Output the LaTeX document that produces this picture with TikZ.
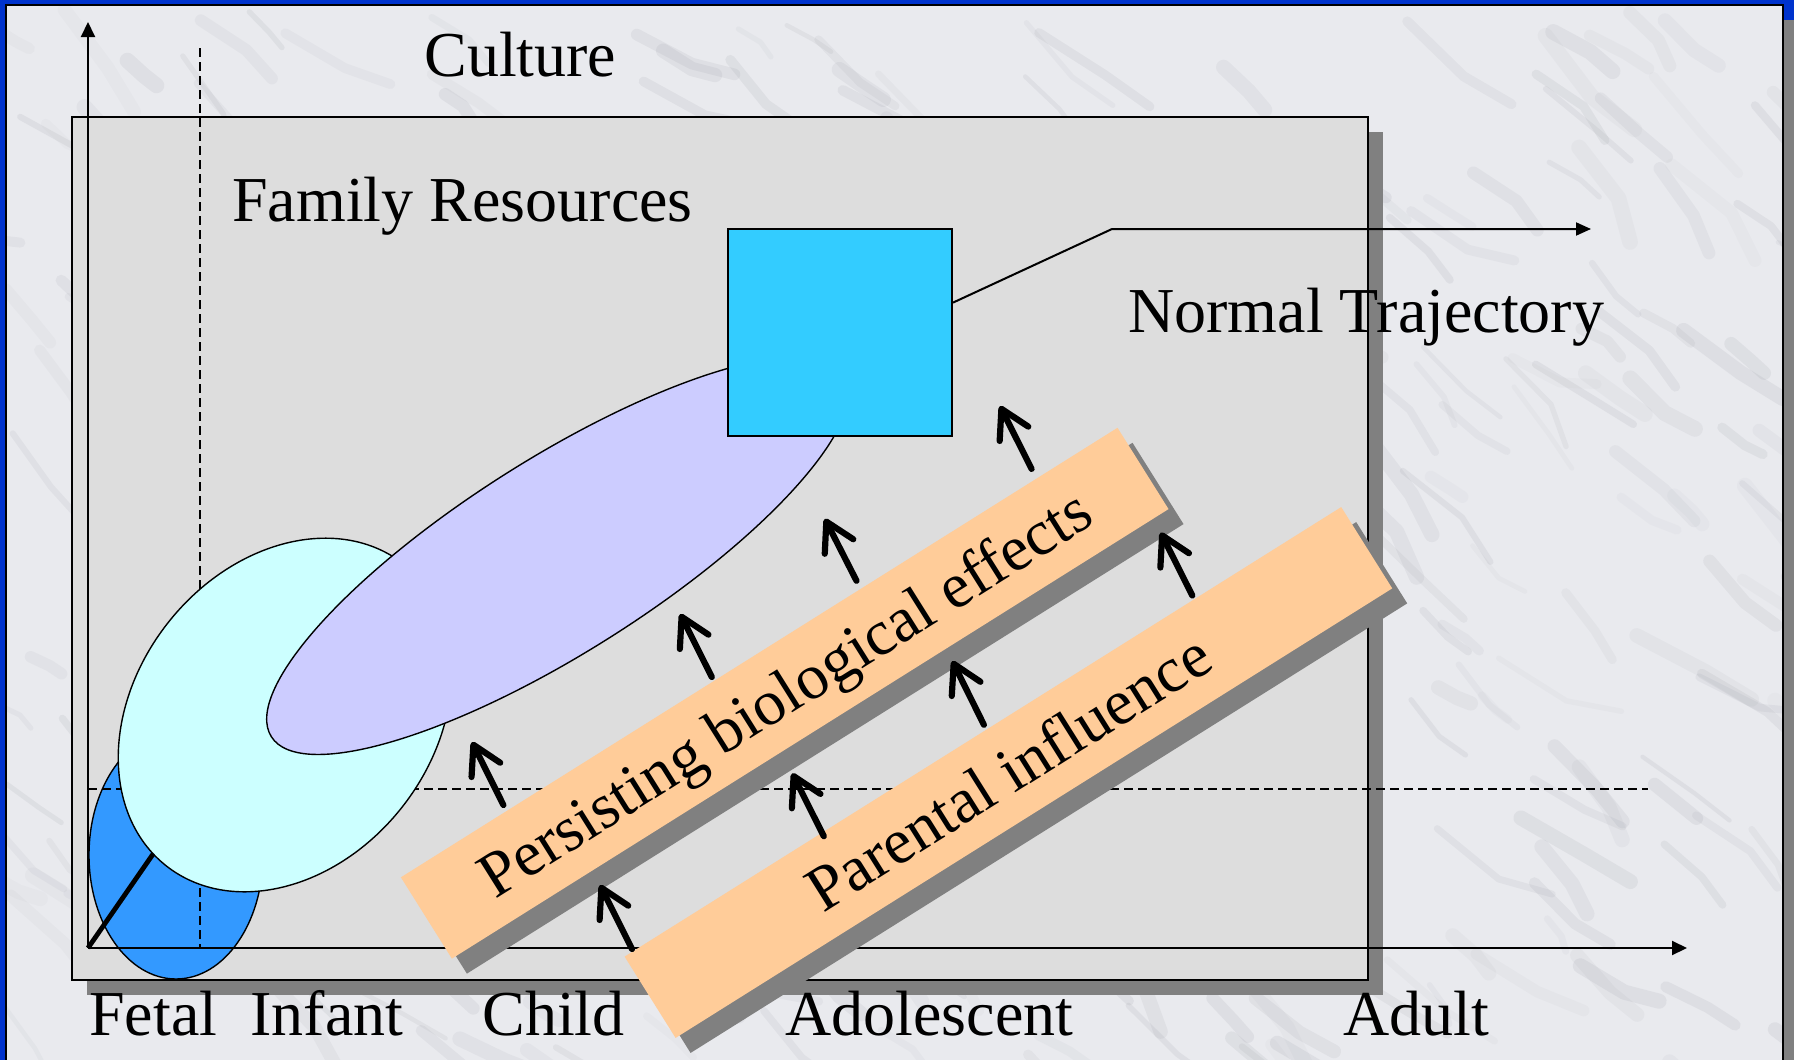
\documentclass[tikz,border=0pt]{standalone}
\usepackage{fontspec}
\setmainfont{Liberation Serif}
\usetikzlibrary{arrows.meta,calc,shapes.geometric}

\definecolor{slideblue}{HTML}{0033CC}
\definecolor{marble}{HTML}{E9EAEE}
\definecolor{vein}{HTML}{8E909A}
\definecolor{panelgray}{HTML}{DDDDDD}
\definecolor{shadowgray}{HTML}{808080}
\definecolor{peach}{HTML}{FFCC99}
\definecolor{fetalblue}{HTML}{3399FF}
\definecolor{infantcyan}{HTML}{CCFFFF}
\definecolor{childlav}{HTML}{CCCCFF}
\definecolor{adultcyan}{HTML}{33CCFF}

\begin{document}
\begin{tikzpicture}[x=0.5pt, y=-0.5pt,
  txt/.style={font=\fontsize{32}{38}\selectfont, inner sep=0pt, anchor=base west},
  axisline/.style={line width=1pt, -{Triangle[length=7.5pt,width=7pt]}},
  guide/.style={line width=0.65pt, dash pattern=on 4.5pt off 2.5pt},
  blob/.style={draw=black, line width=0.7pt, inner sep=0pt},
  slab/.style={rotate=32.1, minimum width=423pt, minimum height=48pt, inner sep=0pt, shape=rectangle},
  slabtext/.style={slab, fill=peach, text height=21pt, text depth=0pt, font=\fontsize{32}{38}\selectfont},
  slabshadow/.style={slab, fill=shadowgray},
  push/.style={line width=3.1pt, line cap=round, -{Straight Barb[length=14pt,width=16pt,round]}},
]
\useasboundingbox (0,0) rectangle (1794,1060);
\clip (0,0) rectangle (1794,1060);

% slide frame
\fill[slideblue] (0,0) rectangle (1794,1060);
\fill[shadowgray] (21,20) rectangle (1800,1080);
\fill[marble] (6,5) rectangle (1783,1080);

% soft marble clouding
\begin{scope}
  \clip (6,5) rectangle (1783,1080);
  \pgfmathsetseed{17}
  \foreach \k in {1,...,360}{
    \pgfmathsetmacro{\mx}{-40+1860*rnd}
    \pgfmathsetmacro{\my}{5+1080*rnd}
    \pgfmathsetmacro{\ml}{20+60*rnd}
    \pgfmathsetmacro{\ma}{25+30*rnd}
    \pgfmathsetmacro{\mb}{\ma+50*rnd-25}
    \pgfmathsetmacro{\mw}{2+6*rnd}
    \pgfmathsetmacro{\mo}{0.04+0.09*rnd}
    \draw[vein, opacity=\mo, line width=\mw pt, line cap=round, line join=round]
      (\mx,\my) -- ++(\ma:\ml) -- ++(\mb:0.7*\ml);
  }
\end{scope}
\draw[line width=1pt] (6,5) rectangle (1783,1080);

% life-course panel with its shadow
\fill[shadowgray] (87,132) rectangle (1383,995);
\draw[line width=1pt, fill=panelgray] (72,117) rectangle (1368,980);

% axes reference points
\coordinate (origin) at (88,948);
\coordinate (ytip) at (88,22);
\coordinate (xtip) at (1687,948);

% fetal stage
\node[blob, ellipse, fill=fetalblue, minimum width=87pt, minimum height=124pt] (fetal) at (176,855) {};
\coordinate (fetalend) at (187,805);
\draw[line width=2.4pt] (origin) -- (fetalend);

% axes and stage guides
\draw[axisline] (origin) -- (ytip);
\draw[axisline] (origin) -- (xtip);
\coordinate (vtop) at (200,48);
\coordinate (vbot) at (200,948);
\draw[guide] (vtop) -- (vbot);
\coordinate (hleft) at (88,789);
\coordinate (hright) at (1648,789);
\draw[guide] (hleft) -- (hright);

% infant, child and adult stages
\node[blob, ellipse, fill=infantcyan, minimum width=192pt, minimum height=149pt, rotate=51.8] (infant) at (285,715) {};
\node[blob, ellipse, fill=childlav, minimum width=339pt, minimum height=97pt, rotate=32.3] (child) at (557.9,555.6) {};
\node[draw=black, line width=1pt, fill=adultcyan, minimum width=112pt, minimum height=103.5pt, inner sep=0pt] (adult) at (840,332.5) {};

% normal trajectory
\coordinate (trajstart) at ($(adult.south east)!0.643!(adult.north east)$);
\coordinate (trajbend) at (1112,229);
\coordinate (trajend) at (1591,229);
\draw[line width=1pt, -{Triangle[length=7.5pt,width=6.5pt]}] (trajstart) -- (trajbend) -- (trajend);

% influence bands
\node[slabshadow] (bioshadow) at (799.7,708.2) {};
\node[slabtext] (bio) at (784.7,693.2) {Persisting biological effects};
\node[slabshadow] (parshadow) at (1023.4,787.5) {};
\node[slabtext] (par) at (1008.4,772.5) {Parental influence};

% influence arrows
\coordinate (p1t) at (503.4,805);   \coordinate (p1h) at (472,742);
\coordinate (p2t) at (632,949);     \coordinate (p2h) at (600,885);
\coordinate (p3t) at (711.8,677);   \coordinate (p3h) at (680.2,614);
\coordinate (p4t) at (823.8,836.2); \coordinate (p4h) at (792.2,773.3);
\coordinate (p5t) at (856.5,580.8); \coordinate (p5h) at (824.9,518.8);
\coordinate (p6t) at (983.9,724.8); \coordinate (p6h) at (952.3,661);
\coordinate (p7t) at (1031.6,468.9);\coordinate (p7h) at (1000,406);
\coordinate (p8t) at (1192.3,595.5);\coordinate (p8h) at (1160.7,532.6);
\foreach \i in {1,...,8} \draw[push] (p\i t) -- (p\i h);

% labels
\node[txt] (culture) at (424,76) {Culture};
\node[txt] (family) at (232,221) {Family Resources};
\node[txt] (normal) at (1128,332) {Normal Trajectory};
\node[txt] (lfetal) at (89,1035) {Fetal};
\node[txt] (linfant) at (250,1035) {Infant};
\node[txt] (lchild) at (482,1035) {Child};
\node[txt] (ladol) at (785,1035) {Adolescent};
\node[txt] (ladult) at (1343,1035) {Adult};
\end{tikzpicture}
\end{document}
